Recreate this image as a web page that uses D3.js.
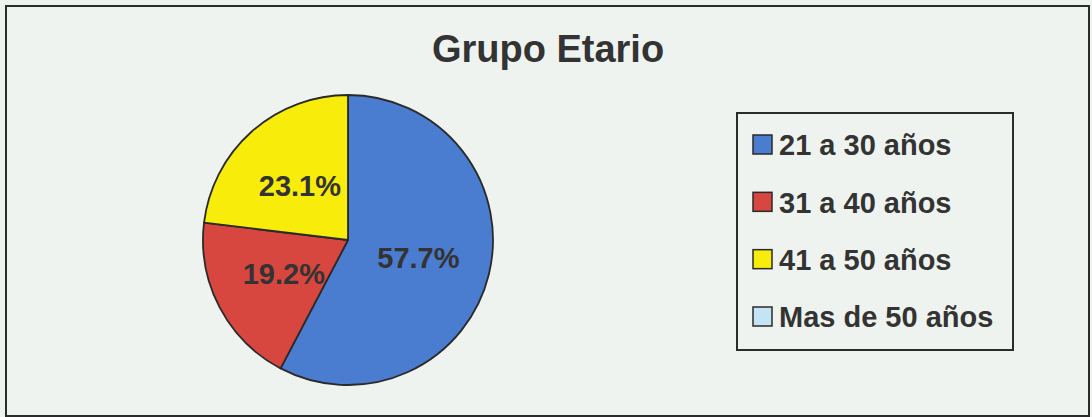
<!DOCTYPE html>
<html>
<head>
<meta charset="utf-8">
<script src="https://cdn.jsdelivr.net/npm/d3@7"></script>
<style>
html,body{margin:0;padding:0;background:#eef2ee;}
svg{display:block;}
text{font-family:"Liberation Sans",Arial,sans-serif;font-weight:bold;}
</style>
</head>
<body>
<svg id="chart" width="1092" height="417"></svg>
<script>
const title = "Grupo Etario";
const categories = ["21 a 30 años", "31 a 40 años", "41 a 50 años", "Mas de 50 años"];
const values = [57.7, 19.2, 23.1, 0];
const colors = ["#4a7ccf", "#d8473f", "#f7ec0a", "#c2e4f4"];

const svg = d3.select("#chart");
const W = 1092, H = 417;

svg.append("rect").attr("x", 6).attr("y", 6).attr("width", 1083).attr("height", 410)
  .attr("fill", "#eff3ef").attr("stroke", "#2b2b2b").attr("stroke-width", 2);

svg.append("text").attr("x", 548).attr("y", 62).attr("text-anchor", "middle")
  .attr("font-size", 38).attr("fill", "#333").text(title);

const cx = 348, cy = 240, r = 145;
const data = categories.map((c, i) => ({cat: c, value: values[i], color: colors[i]}));
const pie = d3.pie().sort(null).value(d => d.value);
const arcs = pie(data);
const arc = d3.arc().innerRadius(0).outerRadius(r);
const labelArc = d3.arc().innerRadius(r * 0.5).outerRadius(r * 0.5);

const g = svg.append("g").attr("transform", `translate(${cx},${cy})`);
g.selectAll("path").data(arcs.filter(a => a.data.value > 0)).join("path")
  .attr("d", arc).attr("fill", d => d.data.color)
  .attr("stroke", "#2a2a2a").attr("stroke-width", 1.8).attr("stroke-linejoin", "round");

g.selectAll("text.lbl").data(arcs.filter(a => a.data.value > 0)).join("text")
  .attr("class", "lbl")
  .attr("transform", d => `translate(${labelArc.centroid(d)})`)
  .attr("text-anchor", "middle").attr("dy", "0.36em")
  .attr("font-size", 29).attr("fill", "#333")
  .text(d => d.data.value.toFixed(1) + "%");

// legend
svg.append("rect").attr("x", 737).attr("y", 113).attr("width", 276).attr("height", 237)
  .attr("fill", "#eff3ef").attr("stroke", "#2b2b2b").attr("stroke-width", 2);

const ly = d3.scalePoint().domain(categories).range([145, 317]);
const lg = svg.append("g");
const items = lg.selectAll("g").data(data).join("g")
  .attr("transform", d => `translate(0,${ly(d.cat)})`);
items.append("rect").attr("x", 753).attr("y", -10).attr("width", 19).attr("height", 19)
  .attr("fill", d => d.color).attr("stroke", "#2a2a2a").attr("stroke-width", 1.5);
items.append("text").attr("x", 779).attr("dy", "0.36em")
  .attr("font-size", 29).attr("fill", "#333").text(d => d.cat);
</script>
</body>
</html>
